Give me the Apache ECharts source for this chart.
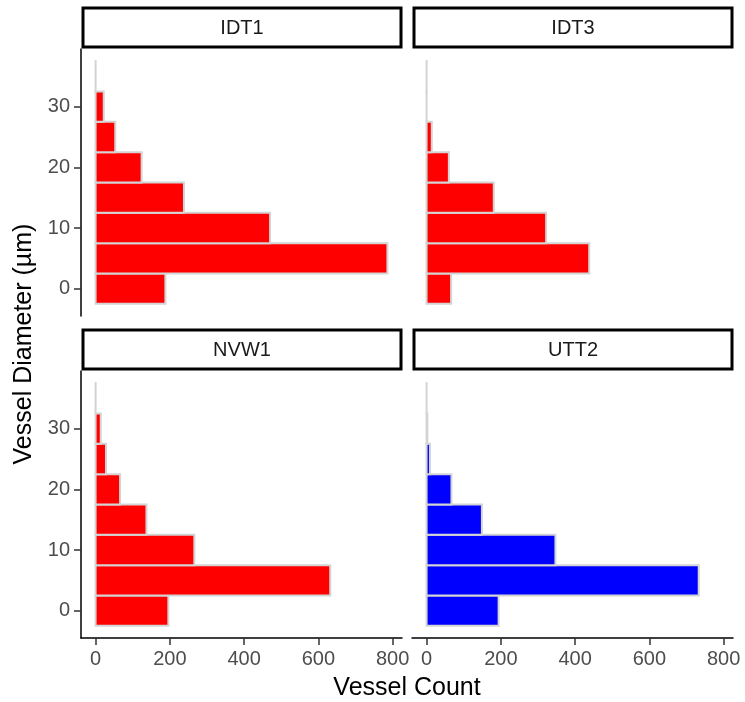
<!DOCTYPE html>
<html>
<head>
<meta charset="utf-8">
<title>Vessel diameter histograms</title>
<script src="https://cdn.jsdelivr.net/npm/echarts@6/dist/echarts.min.js"></script>
<style>
  html, body { margin: 0; padding: 0; background: #fff; }
  #chart { width: 745px; height: 702px; }
</style>
</head>
<body>
<div id="chart"></div>
<script>
// histogram bins (vessel diameter, µm)
const binCenters = [0, 5, 10, 15, 20, 25, 30, 35];
const binWidth = 5;

// counts per bin, one array per sample
const panelNames = ['IDT1', 'IDT3', 'NVW1', 'UTT2'];
const countsIDT1 = [188, 786, 470, 238, 124, 53, 22, 0];
const countsIDT3 = [66, 438, 322, 181, 60, 14, 0, 0];
const countsNVW1 = [196, 632, 266, 137, 66, 28, 14, 0];
const countsUTT2 = [194, 733, 347, 149, 67, 9, 2, 0];
const panelCounts = [countsIDT1, countsIDT3, countsNVW1, countsUTT2];
const panelColors = ['#ff0000', '#ff0000', '#ff0000', '#0000ff'];

const xTicks = [0, 200, 400, 600, 800];
const yTicks = [0, 10, 20, 30];

const FONT = '"Liberation Sans", Arial, sans-serif';

// axis ranges (ggplot-style 5% expansion)
const X_MIN = -39.3, X_MAX = 825.3;
const Y_MIN = -4.5, Y_MAX = 39.5;

const chart = echarts.init(document.getElementById('chart'), null, { renderer: 'canvas' });

// panel layout: [left, top] in px
const panelPos = [[81, 49], [412, 49], [81, 371], [412, 371]];
const W = 321, H = 267;
const PAD = 9; // room for the outside ticks
// labels are placed from the grid edge, which is PAD beyond the axis line
const LABEL_MARGIN = 11 - PAD;

const grids = [], xAxes = [], yAxes = [], series = [], graphics = [];

panelNames.forEach((name, i) => {
  const [L, T] = panelPos[i];
  const isLeft = i % 2 === 0;
  const isBottom = i >= 2;

  // data grid: bars only, axes hidden
  const dg = grids.length;
  grids.push({ left: L, top: T, width: W, height: H });
  const xi = xAxes.length;
  xAxes.push({ type: 'value', gridIndex: dg, min: X_MIN, max: X_MAX, show: false });
  const yi = yAxes.length;
  yAxes.push({ type: 'value', gridIndex: dg, min: Y_MIN, max: Y_MAX, show: false });

  const color = panelColors[i];
  series.push({
    type: 'custom',
    name: name,
    xAxisIndex: xi,
    yAxisIndex: yi,
    data: binCenters.map((c, k) => [c, panelCounts[i][k]]),
    renderItem: function (params, api) {
      const c = api.value(0);
      const v = api.value(1);
      const p0 = api.coord([0, c - binWidth / 2]);
      const p1 = api.coord([v, c + binWidth / 2]);
      return {
        type: 'rect',
        shape: { x: p0[0], y: p1[1], width: Math.max(p1[0] - p0[0], 0.01), height: p0[1] - p1[1] },
        style: { fill: color, stroke: '#d4d4d4', lineWidth: 2 }
      };
    }
  });

  // y axis grid (left column): widened so the ticks fit, line sits on helper zero
  if (isLeft) {
    const g = grids.length;
    grids.push({ left: L - PAD, top: T, width: W + PAD, height: H });
    xAxes.push({ type: 'value', gridIndex: g, min: -PAD, max: W, show: false, axisLine: { onZero: false } });
    yAxes.push({
      type: 'value', gridIndex: g, min: Y_MIN, max: Y_MAX,
      splitLine: { show: false },
      axisLine: { show: true, onZero: true, lineStyle: { color: '#000', width: 1.5 } },
      axisTick: { show: true, length: 7, customValues: yTicks, lineStyle: { color: '#333', width: 1.5 } },
      axisLabel: { show: true, customValues: yTicks, margin: LABEL_MARGIN, color: '#4d4d4d', fontSize: 20, fontFamily: FONT }
    });
  }

  // x axis grid (bottom row)
  if (isBottom) {
    const g = grids.length;
    grids.push({ left: L, top: T, width: W, height: H + PAD });
    yAxes.push({ type: 'value', gridIndex: g, min: -PAD, max: H, show: false, axisLine: { onZero: false } });
    xAxes.push({
      type: 'value', gridIndex: g, min: X_MIN, max: X_MAX,
      splitLine: { show: false },
      axisLine: { show: true, onZero: true, lineStyle: { color: '#000', width: 1.5 } },
      axisTick: { show: true, length: 7, customValues: xTicks, lineStyle: { color: '#333', width: 1.5 } },
      axisLabel: { show: true, customValues: xTicks, margin: LABEL_MARGIN, color: '#4d4d4d', fontSize: 20, fontFamily: FONT }
    });
  }

  // facet strip
  const stripTop = isBottom ? 330 : 8;
  graphics.push({
    type: 'group',
    children: [
      {
        type: 'rect',
        shape: { x: L + 2, y: stripTop, width: W - 3, height: 39 },
        style: { fill: '#fff', stroke: '#000', lineWidth: 3 }
      },
      {
        type: 'text',
        x: L + 2 + (W - 3) / 2,
        y: stripTop + 20,
        style: {
          text: name, fill: '#1a1a1a', font: '20px ' + FONT,
          textAlign: 'center', textVerticalAlign: 'middle'
        }
      }
    ]
  });
});

// axis titles
graphics.push({
  type: 'text',
  x: 407, y: 688,
  style: { text: 'Vessel Count', fill: '#000', font: '25px ' + FONT, textAlign: 'center', textVerticalAlign: 'middle' }
});
graphics.push({
  type: 'text',
  x: 24, y: 344,
  rotation: Math.PI / 2,
  style: { text: 'Vessel Diameter (µm)', fill: '#000', font: '25px ' + FONT, textAlign: 'center', textVerticalAlign: 'middle' }
});

chart.setOption({
  backgroundColor: '#fff',
  animation: false,
  grid: grids,
  xAxis: xAxes,
  yAxis: yAxes,
  series: series,
  graphic: graphics
});
</script>
</body>
</html>
